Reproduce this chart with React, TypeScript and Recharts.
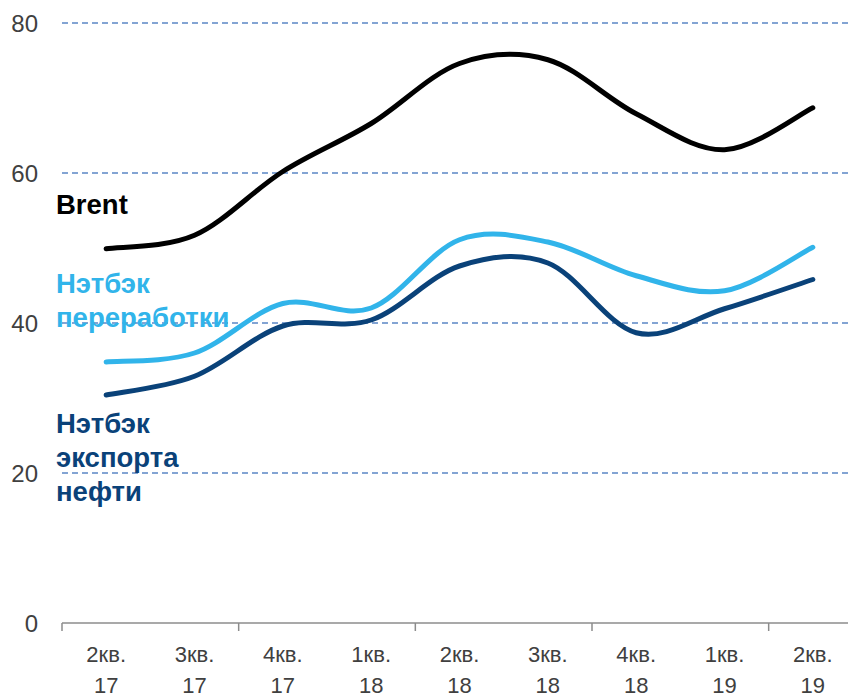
import React from 'react';
import { LineChart, Line, XAxis, YAxis, CartesianGrid } from 'recharts';

const QUARTERS = ['2кв.', '3кв.', '4кв.', '1кв.', '2кв.', '3кв.', '4кв.', '1кв.', '2кв.'];
const YEARS = ['17', '17', '17', '18', '18', '18', '18', '19', '19'];
const BRENT = [49.9, 51.7, 60.2, 66.6, 74.6, 75.1, 67.9, 63.1, 68.7];
const REFINING = [34.8, 36.0, 42.6, 42.0, 51.1, 50.8, 46.3, 44.3, 50.1];
const EXPORT = [30.4, 32.9, 39.6, 40.4, 47.6, 48.0, 38.7, 41.9, 45.8];
const Y_TICKS = [0, 20, 40, 60, 80];
const GRID_VALUES = [20, 40, 60, 80];
const MARK_TICKS = [-0.5, 1.5, 3.5, 5.5, 7.5];

const data = QUARTERS.map((q, i) => ({
  idx: i,
  brent: BRENT[i],
  refining: REFINING[i],
  export: EXPORT[i],
}));

// сглаживание как в Excel (Catmull-Rom)
const smooth = (context: any) => {
  let pts: number[][] = [];
  return {
    areaStart() {},
    areaEnd() {},
    lineStart() { pts = []; },
    point(x: number, y: number) { pts.push([+x, +y]); },
    lineEnd() {
      if (!pts.length) return;
      context.moveTo(pts[0][0], pts[0][1]);
      for (let i = 0; i < pts.length - 1; i++) {
        const p0 = pts[i - 1] || pts[i];
        const p1 = pts[i];
        const p2 = pts[i + 1];
        const p3 = pts[i + 2] || pts[i + 1];
        context.bezierCurveTo(
          p1[0] + (p2[0] - p0[0]) / 6, p1[1] + (p2[1] - p0[1]) / 6,
          p2[0] - (p3[0] - p1[0]) / 6, p2[1] - (p3[1] - p1[1]) / 6,
          p2[0], p2[1]
        );
      }
    },
  };
};

const FONT = '"Liberation Sans", Arial, sans-serif';

const XTick = (props: any) => {
  const { x, payload } = props;
  const i = payload.value;
  return (
    <text x={x} y={623} textAnchor="middle" fill="#404040" fontSize={22} fontFamily={FONT}>
      <tspan x={x} dy={39}>{QUARTERS[i]}</tspan>
      <tspan x={x} dy={31}>{YEARS[i]}</tspan>
    </text>
  );
};

// засечки между парами кварталов, без подписей
const EmptyTick = () => <g />;

const labelStyle: React.CSSProperties = {
  position: 'absolute',
  left: 56,
  fontFamily: FONT,
  fontWeight: 700,
  fontSize: 27.5,
  lineHeight: '34px',
  margin: 0,
};

export default function App() {
  return (
    <div style={{ position: 'absolute', top: 0, left: 0, width: 848, height: 697, overflow: 'hidden', background: '#fff' }}>
      <LineChart width={870} height={697} data={data} margin={{ top: 23, right: 13, left: 0, bottom: 0 }}>
        <CartesianGrid horizontal vertical={false} horizontalValues={GRID_VALUES} stroke="#5b86c5" strokeDasharray="6 4" strokeWidth={1.5} />
        <XAxis
          xAxisId="b"
          dataKey="idx"
          type="number"
          domain={[-0.5, 8.5]}
          ticks={QUARTERS.map((_, i) => i)}
          interval={0}
          tick={<XTick />}
          tickLine={false}
          axisLine={false}
          height={73}
        />
        <XAxis
          xAxisId="a"
          dataKey="idx"
          type="number"
          domain={[-0.5, 8.5]}
          ticks={MARK_TICKS}
          interval={0}
          tick={<EmptyTick />}
          tickLine={{ stroke: '#8c8c8c', strokeWidth: 1.5 }}
          tickSize={8}
          axisLine={{ stroke: '#8c8c8c', strokeWidth: 1.5 }}
          height={1}
        />
        <YAxis
          domain={[0, 80]}
          ticks={Y_TICKS}
          width={62}
          axisLine={false}
          tickLine={false}
          tickSize={0}
          tickMargin={24}
          tick={{ fill: '#404040', fontSize: 24, fontFamily: FONT }}
        />
        <Line xAxisId="b" type={smooth as any} dataKey="brent" stroke="#000000" strokeWidth={5} strokeLinecap="round" dot={false} activeDot={false} isAnimationActive={false} />
        <Line xAxisId="b" type={smooth as any} dataKey="refining" stroke="#31b4ea" strokeWidth={5} strokeLinecap="round" dot={false} activeDot={false} isAnimationActive={false} />
        <Line xAxisId="b" type={smooth as any} dataKey="export" stroke="#0a4279" strokeWidth={5} strokeLinecap="round" dot={false} activeDot={false} isAnimationActive={false} />
      </LineChart>
      <div style={{ ...labelStyle, top: 188, color: '#000000' }}>Brent</div>
      <div style={{ ...labelStyle, top: 267, color: '#31b4ea' }}>Нэтбэк<br />переработки</div>
      <div style={{ ...labelStyle, top: 407, color: '#0a4279' }}>Нэтбэк<br />экспорта<br />нефти</div>
    </div>
  );
}
